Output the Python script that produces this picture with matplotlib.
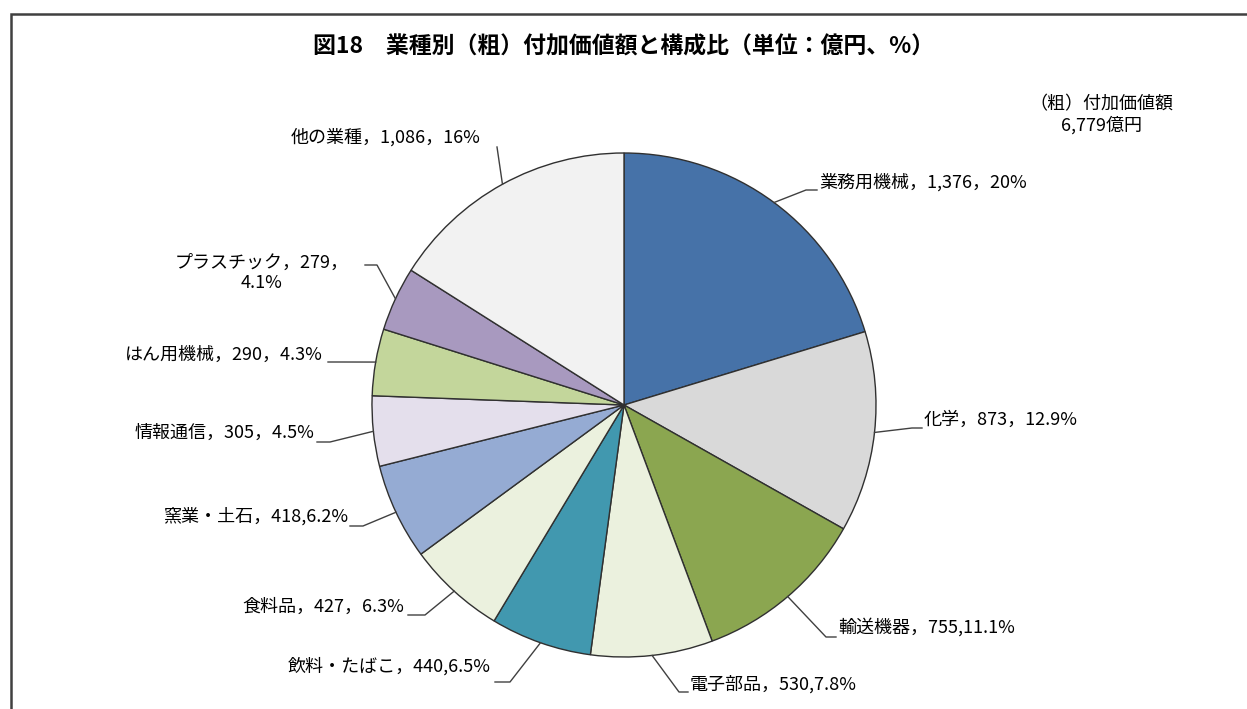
import matplotlib
matplotlib.use("Agg")
import numpy as np
import matplotlib.pyplot as plt
from matplotlib.patches import Rectangle

plt.rcParams['font.family'] = ['Noto Sans CJK JP', 'DejaVu Sans']

# data
categories = ['業務用機械', '化学', '輸送機器', '電子部品', '飲料・たばこ', '食料品',
              '窯業・土石', '情報通信', 'はん用機械', 'プラスチック', '他の業種']
values = [1376, 873, 755, 530, 440, 427, 418, 305, 290, 279, 1086]
pct_labels = ['20%', '12.9%', '11.1%', '7.8%', '6.5%', '6.3%', '6.2%', '4.5%', '4.3%', '4.1%', '16%']
separators = ['，', '，', ',', ',', ',', '，', ',', '，', '，', '，\n', '，']
colors = ['#4672A8', '#D9D9D9', '#8BA650', '#EBF1DE', '#4198AF', '#EBF1DE',
          '#95ABD3', '#E4DFEC', '#C3D69B', '#A899BF', '#F2F2F2']

W, H = 1247, 709
fig = plt.figure(figsize=(W / 100, H / 100), dpi=100)
ax = fig.add_axes([0, 0, 1, 1])


def py(y):
    # pixel y (from top) -> data y
    return H - y


cx, cy, r = 624, 405, 252
wedges, _ = ax.pie(values, colors=colors, startangle=90, counterclock=False,
                   center=(cx, py(cy)), radius=r, frame=True,
                   wedgeprops=dict(edgecolor='#303030', linewidth=1.0))
ax.set_xlim(0, W)
ax.set_ylim(0, H)
ax.set_aspect('equal')
ax.axis('off')

# outer frame (runs off the right and bottom edges)
ax.add_patch(Rectangle((11, py(740)), 1300, 740 - 14, fill=False,
                       edgecolor='#404040', linewidth=1.8, zorder=5))

# label layout: elbow point, line end, text anchor (pixels from top-left), alignment
elbows = [(806, 190), (912, 428), (826, 637), (679, 692), (510, 682), (425, 615),
          (363, 526), (330, 442), (340, 362), (377, 265), (497, 147)]
ends = [(817, 190), (922, 428), (836, 637), (688, 692), (495, 682), (408, 615),
        (350, 526), (317, 442), (328, 362), (365, 265), (497, 147)]
text_pos = [(819, 182), (924, 420), (838, 627), (690, 684), (491, 666), (404, 607),
            (348, 516), (314, 433), (323, 355), (262, 273), (386, 137)]
aligns = ['left', 'left', 'left', 'left', 'right', 'right', 'right', 'right', 'right',
          'center', 'center']

for i, w in enumerate(wedges):
    ang = np.deg2rad((w.theta1 + w.theta2) / 2)
    ex = cx + r * np.cos(ang)
    ey = py(cy) + r * np.sin(ang)
    xs = [ex, elbows[i][0], ends[i][0]]
    ys = [ey, py(elbows[i][1]), py(ends[i][1])]
    ax.plot(xs, ys, color='#404040', linewidth=1.0, zorder=3)
    label = f"{categories[i]}，{values[i]:,}{separators[i]}{pct_labels[i]}"
    ax.text(text_pos[i][0], py(text_pos[i][1]), label, ha=aligns[i], va='center',
            fontsize=13, color='black', linespacing=1.2, zorder=4)

total = sum(values)
ax.text(624, py(47), '図18　業種別（粗）付加価値額と構成比（単位：億円、%）',
        ha='center', va='center', fontsize=16.5, fontweight='bold')
ax.text(1101, py(115), f'（粗）付加価値額\n{total:,}億円', ha='center', va='center',
        fontsize=13, linespacing=1.2)

fig.savefig('out.png', dpi=100)
